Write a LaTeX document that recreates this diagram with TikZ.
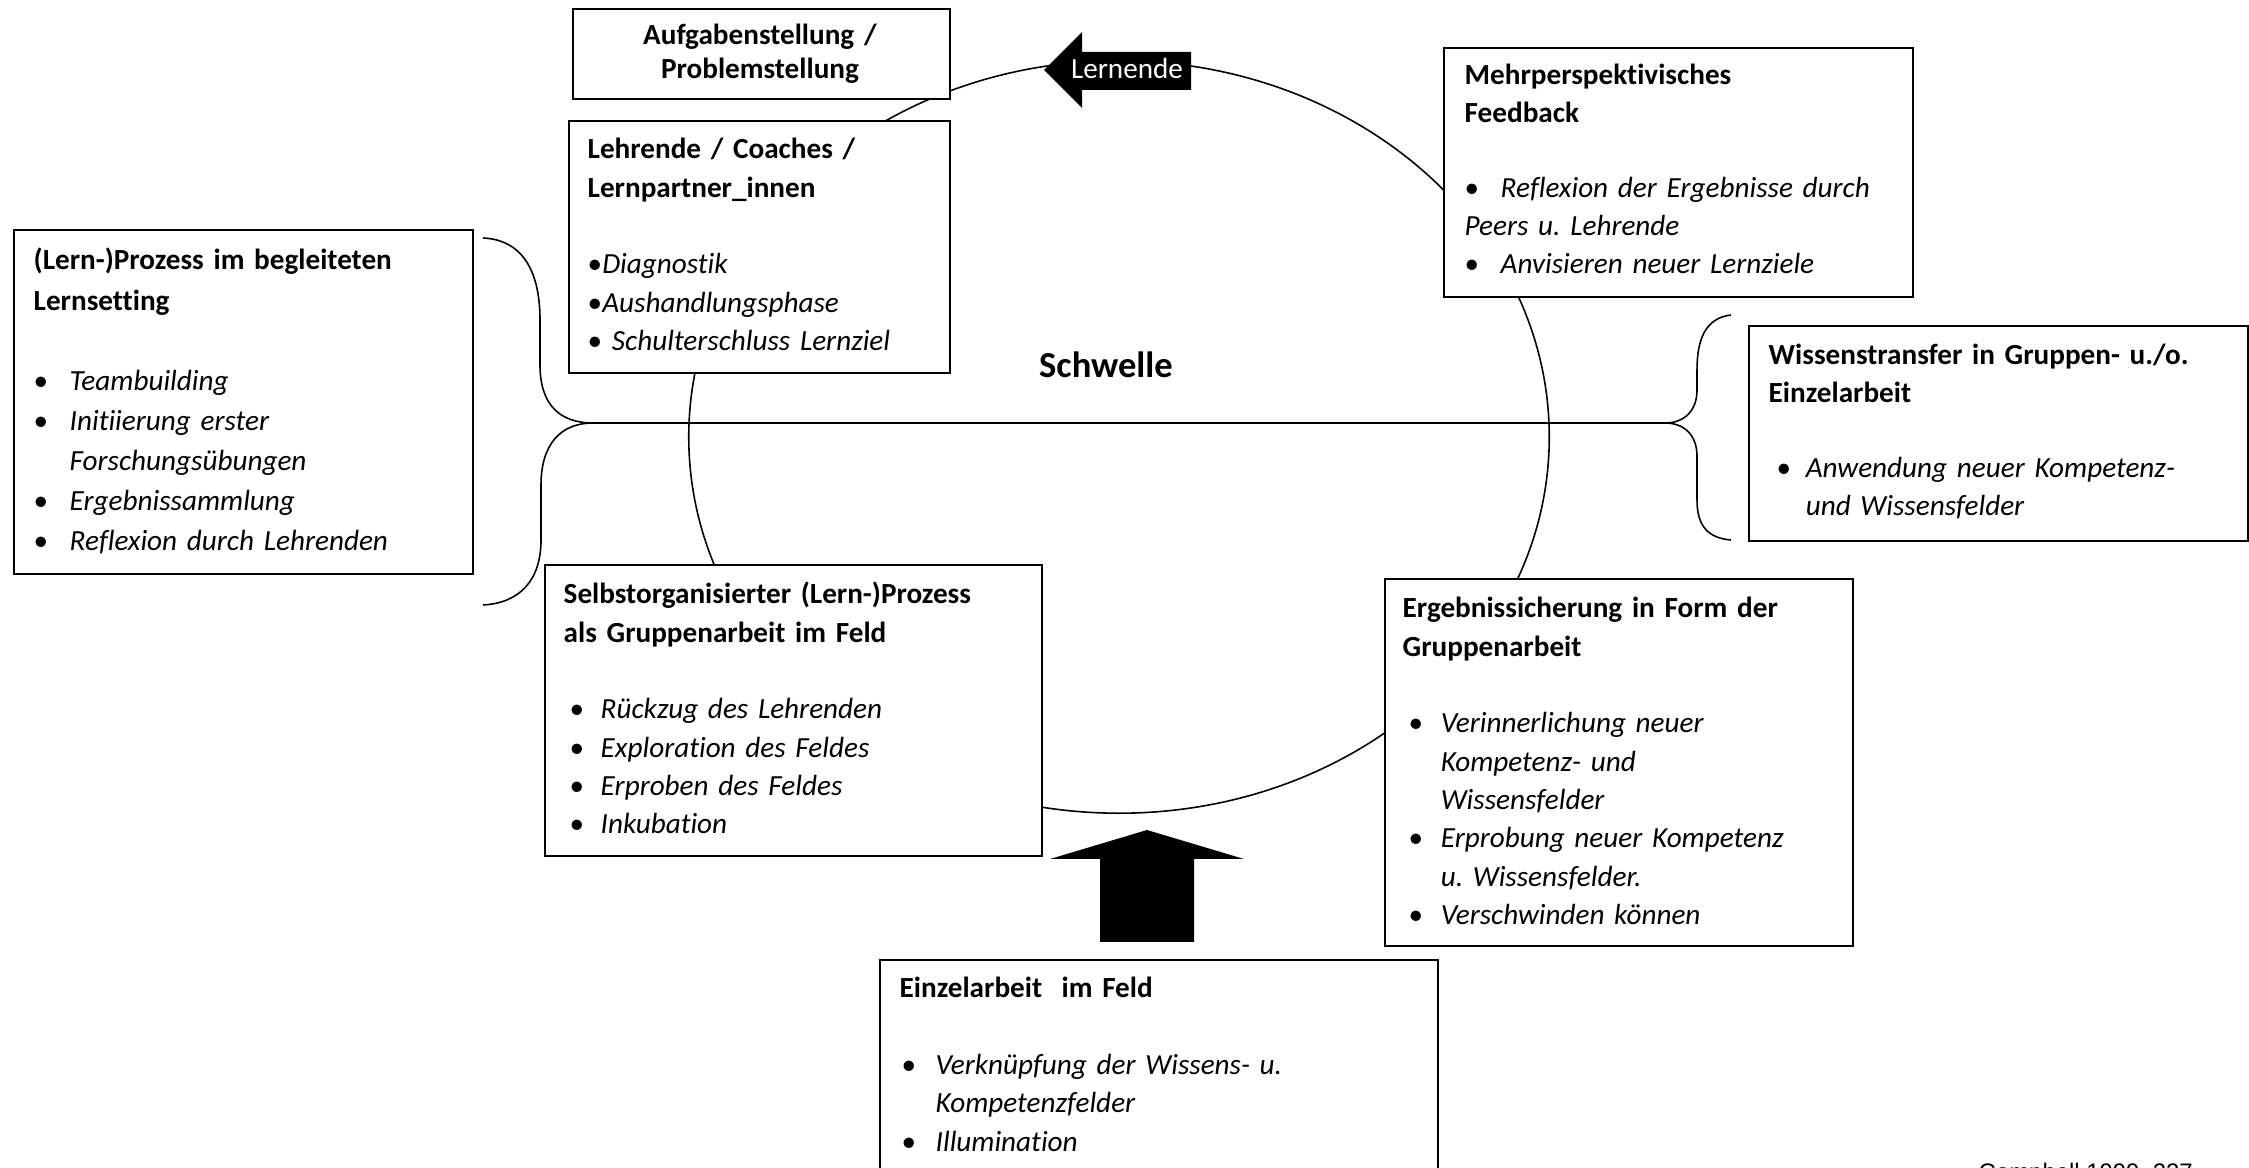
\documentclass[tikz,border=0pt]{standalone}
\usepackage{fontspec}
\setmainfont{Carlito}[Ligatures=NoCommon]
\newfontfamily\citefont{Liberation Sans}
\newcommand{\itembul}[2]{\hspace*{#1}\makebox[\dimexpr#2-#1\relax][l]{\textbullet}}
\frenchspacing

\begin{document}
\begin{tikzpicture}[x=0.01cm, y=-0.01cm,
  panel/.style={draw=black, fill=white, line width=0.45pt, anchor=north west, inner sep=0pt},
  boxtext/.style={anchor=base west, inner sep=0pt, text width=5.2cm, align=left,
    font=\fontsize{8.3}{10.9}\selectfont},
  curve/.style={line width=0.45pt}]
  \useasboundingbox (0,0) rectangle (2249,1168);
  \fill[white] (0,0) rectangle (2249,1168);
  \clip (0,0) rectangle (2249,1168);

  % Cycle (ellipse behind the boxes)
  \draw[curve] (1119,437) ellipse [x radius=4.30cm, y radius=3.76cm];

  % Braces and threshold line
  \coordinate (ltip) at (593,423);
  \coordinate (rtip) at (1665,423);
  \draw[curve] (483,238) .. controls (525,240) and (540,275) .. (540,320) -- (540,365)
    .. controls (540,405) and (560,423) .. (ltip)
    .. controls (560,423) and (541,445) .. (541,485) -- (541,540)
    .. controls (541,580) and (520,603) .. (483,605);
  \draw[curve] (1731,315) .. controls (1705,318) and (1697,340) .. (1697,370) -- (1697,390)
    .. controls (1697,410) and (1685,423) .. (rtip)
    .. controls (1685,423) and (1697,436) .. (1697,456) -- (1697,500)
    .. controls (1697,525) and (1707,538) .. (1731,540);
  \draw[curve] (ltip) -- (rtip);

  % Boxes
  \node[panel, minimum width=3.77cm, minimum height=0.90cm] (aufgabe) at (572,8) {};
  \node[panel, minimum width=3.81cm, minimum height=2.52cm] (lehrende) at (568,120) {};
  \node[panel, minimum width=4.69cm, minimum height=2.49cm] (feedback) at (1443,47) {};
  \node[panel, minimum width=4.59cm, minimum height=3.44cm] (lernsetting) at (13,229) {};
  \node[panel, minimum width=4.99cm, minimum height=2.15cm] (transfer) at (1748,325) {};
  \node[panel, minimum width=4.97cm, minimum height=2.91cm] (gruppe) at (544,564) {};
  \node[panel, minimum width=4.68cm, minimum height=3.67cm] (sicherung) at (1384,578) {};
  \node[panel, minimum width=5.58cm, minimum height=2.60cm] (einzel) at (879,959) {};

  % Box texts
  \node[boxtext, anchor=base, align=center, text width=3.6cm,
    font=\fontsize{8.3}{9.4}\selectfont] (aufgabeTxt) at (760,45)
    {\textbf{Aufgabenstellung /}\\ \textbf{Problemstellung}};

  \node[boxtext] (lehrendeTxt) at (587,159)
    {\textbf{Lehrende / Coaches /}\\ \textbf{Lernpartner\_innen}\\[10.9pt]
     \textbullet\textit{Diagnostik}\\
     \textbullet\textit{Aushandlungsphase}\\
     \textbullet\ \textit{Schulterschluss Lernziel}};

  \node[boxtext, font=\fontsize{8.3}{10.7}\selectfont] (feedbackTxt) at (1464,85)
    {\textbf{Mehrperspektivisches}\\ \textbf{Feedback}\\[10.7pt]
     \itembul{0cm}{0.36cm}\textit{Reflexion der Ergebnisse durch}\\
     \textit{Peers u. Lehrende}\\
     \itembul{0cm}{0.36cm}\textit{Anvisieren neuer Lernziele}};

  \node[boxtext, font=\fontsize{8.3}{11.4}\selectfont] (lernsettingTxt) at (33,270)
    {\textbf{(Lern-)Prozess im begleiteten}\\ \textbf{Lernsetting}\\[11.4pt]
     \itembul{0cm}{0.36cm}\textit{Teambuilding}\\
     \itembul{0cm}{0.36cm}\textit{Initiierung erster}\\
     \hspace*{0.36cm}\textit{Forschungsübungen}\\
     \itembul{0cm}{0.36cm}\textit{Ergebnissammlung}\\
     \itembul{0cm}{0.36cm}\textit{Reflexion durch Lehrenden}};

  \node[boxtext, font=\fontsize{8.3}{10.7}\selectfont] (transferTxt) at (1768,365)
    {\textbf{Wissenstransfer in Gruppen- u./o.}\\ \textbf{Einzelarbeit}\\[10.7pt]
     \itembul{0.08cm}{0.37cm}\textit{Anwendung neuer Kompetenz-}\\
     \hspace*{0.37cm}\textit{und Wissensfelder}};

  \node[boxtext] (gruppeTxt) at (563,604)
    {\textbf{Selbstorganisierter (Lern-)Prozess}\\ \textbf{als Gruppenarbeit im Feld}\\[10.9pt]
     \itembul{0.06cm}{0.37cm}\textit{Rückzug des Lehrenden}\\
     \itembul{0.06cm}{0.37cm}\textit{Exploration des Feldes}\\
     \itembul{0.06cm}{0.37cm}\textit{Erproben des Feldes}\\
     \itembul{0.06cm}{0.37cm}\textit{Inkubation}};

  \node[boxtext] (sicherungTxt) at (1402,618)
    {\textbf{Ergebnissicherung in Form der}\\ \textbf{Gruppenarbeit}\\[10.9pt]
     \itembul{0.06cm}{0.38cm}\textit{Verinnerlichung neuer}\\
     \hspace*{0.38cm}\textit{Kompetenz- und}\\
     \hspace*{0.38cm}\textit{Wissensfelder}\\
     \itembul{0.06cm}{0.38cm}\textit{Erprobung neuer Kompetenz}\\
     \hspace*{0.38cm}\textit{u. Wissensfelder.}\\
     \itembul{0.06cm}{0.38cm}\textit{Verschwinden können}};

  \node[boxtext] (einzelTxt) at (899,998)
    {\textbf{Einzelarbeit\ \ im Feld}\\[10.9pt]
     \itembul{0.02cm}{0.36cm}\textit{Verknüpfung der Wissens- u.}\\
     \hspace*{0.36cm}\textit{Kompetenzfelder}\\
     \itembul{0.02cm}{0.36cm}\textit{Illumination}};

  % Threshold label
  \node[anchor=base, inner sep=0pt, font=\bfseries\fontsize{10.4}{12}\selectfont] (schwelle) at (1106,378) {Schwelle};

  % Arrow: Lernende
  \fill (1191,52) -- (1082,52) -- (1082,32) -- (1044,70) -- (1082,108) -- (1082,90) -- (1191,90) -- cycle;
  \node[anchor=base, inner sep=0pt, text=white, font=\fontsize{8.3}{10}\selectfont] (lernende) at (1127,79) {Lernende};

  % Arrow: up into the cycle
  \fill (1100,942) -- (1100,859) -- (1050,859) -- (1147,830) -- (1244,859) -- (1194,859) -- (1194,942) -- cycle;

  % Source
  \node[anchor=base west, inner sep=0pt, font=\citefont\fontsize{6.8}{8}\selectfont] (quelle) at (1978,1180) {Campbell 1999, 227};
\end{tikzpicture}
\end{document}
